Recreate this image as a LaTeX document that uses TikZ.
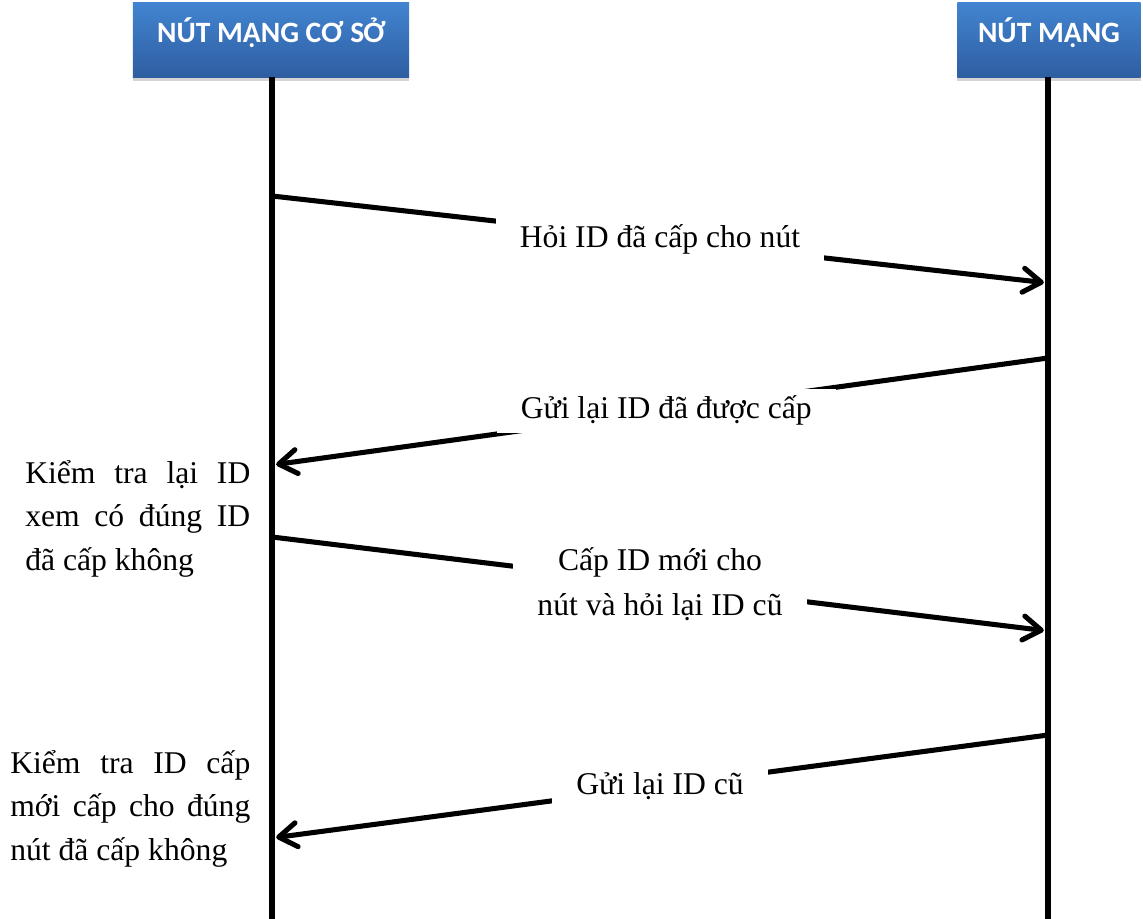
\documentclass[tikz,border=0pt]{standalone}
\usepackage{fontspec}
\setmainfont{Liberation Serif}
\newfontfamily\hdfont{Carlito}
\usetikzlibrary{positioning,arrows.meta,calc,shadows}
\definecolor{hdtop}{RGB}{66,132,208}
\definecolor{hdbot}{RGB}{46,94,162}
\tikzset{
  hd/.style={top color=hdtop,bottom color=hdbot,text=white,inner sep=0pt,
             font=\hdfont\bfseries\fontsize{21}{24}\selectfont,
             text height=1.0cm,text depth=0.85cm,
             drop shadow={shadow xshift=0pt,shadow yshift=-1mm,opacity=.35}},
  life/.style={line width=4.3pt},
  msg/.style={line width=3.6pt,line cap=round,shorten >=3pt,
              -{Straight Barb[length=4.5mm,width=6mm,line join=round,line cap=round]}},
  lbl/.style={fill=white,inner xsep=0.6cm,inner ysep=5pt,align=center,
              font=\fontsize{22.5}{32}\selectfont},
  note/.style={inner sep=0pt,align=justify,anchor=base west,
               font=\fontsize{22.5}{31}\selectfont},
}
\begin{document}
\begin{tikzpicture}[x=0.025cm,y=-0.025cm]
\useasboundingbox (0,0) rectangle (1143,919);

% lifelines
\node[hd,minimum width=6.9cm] (cs) at (271,40) {NÚT MẠNG CƠ SỞ};
\node[hd,minimum width=4.575cm] (nm) at (1049,40) {NÚT MẠNG};
\coordinate (csbot) at (272,919);
\coordinate (nmbot) at (1048,919);
\draw[life] (cs.south -| csbot) -- (csbot);
\draw[life] (nm.south -| nmbot) -- (nmbot);

% messages
\coordinate (cs1) at (272,196); \coordinate (nm1) at (1048,283);
\coordinate (nm2) at (1048,358); \coordinate (cs2) at (272,465);
\coordinate (cs3) at (272,537); \coordinate (nm3) at (1048,631);
\coordinate (nm4) at (1048,735); \coordinate (cs4) at (272,838);

\draw[msg] (cs1) -- node[lbl] (q1) {Hỏi ID đã cấp cho nút} (nm1);
\draw[msg] (nm2) -- node[lbl,pos=.492] (a1) {Gửi lại ID đã được cấp} (cs2);
\draw[msg] (cs3) -- node[lbl] (q2) {Cấp ID mới cho\\nút và hỏi lại ID cũ} (nm3);
\draw[msg] (nm4) -- node[lbl] (a2) {Gửi lại ID cũ} (cs4);

% checks at the base node
\node[note,text width=5.625cm] (chk1) at (25,483)
  {Kiểm tra lại ID\linebreak xem có đúng ID\linebreak đã cấp không};
\node[note,text width=6cm] (chk2) at (10,773)
  {Kiểm tra ID cấp\linebreak mới cấp cho đúng\linebreak nút đã cấp không};
\end{tikzpicture}
\end{document}
